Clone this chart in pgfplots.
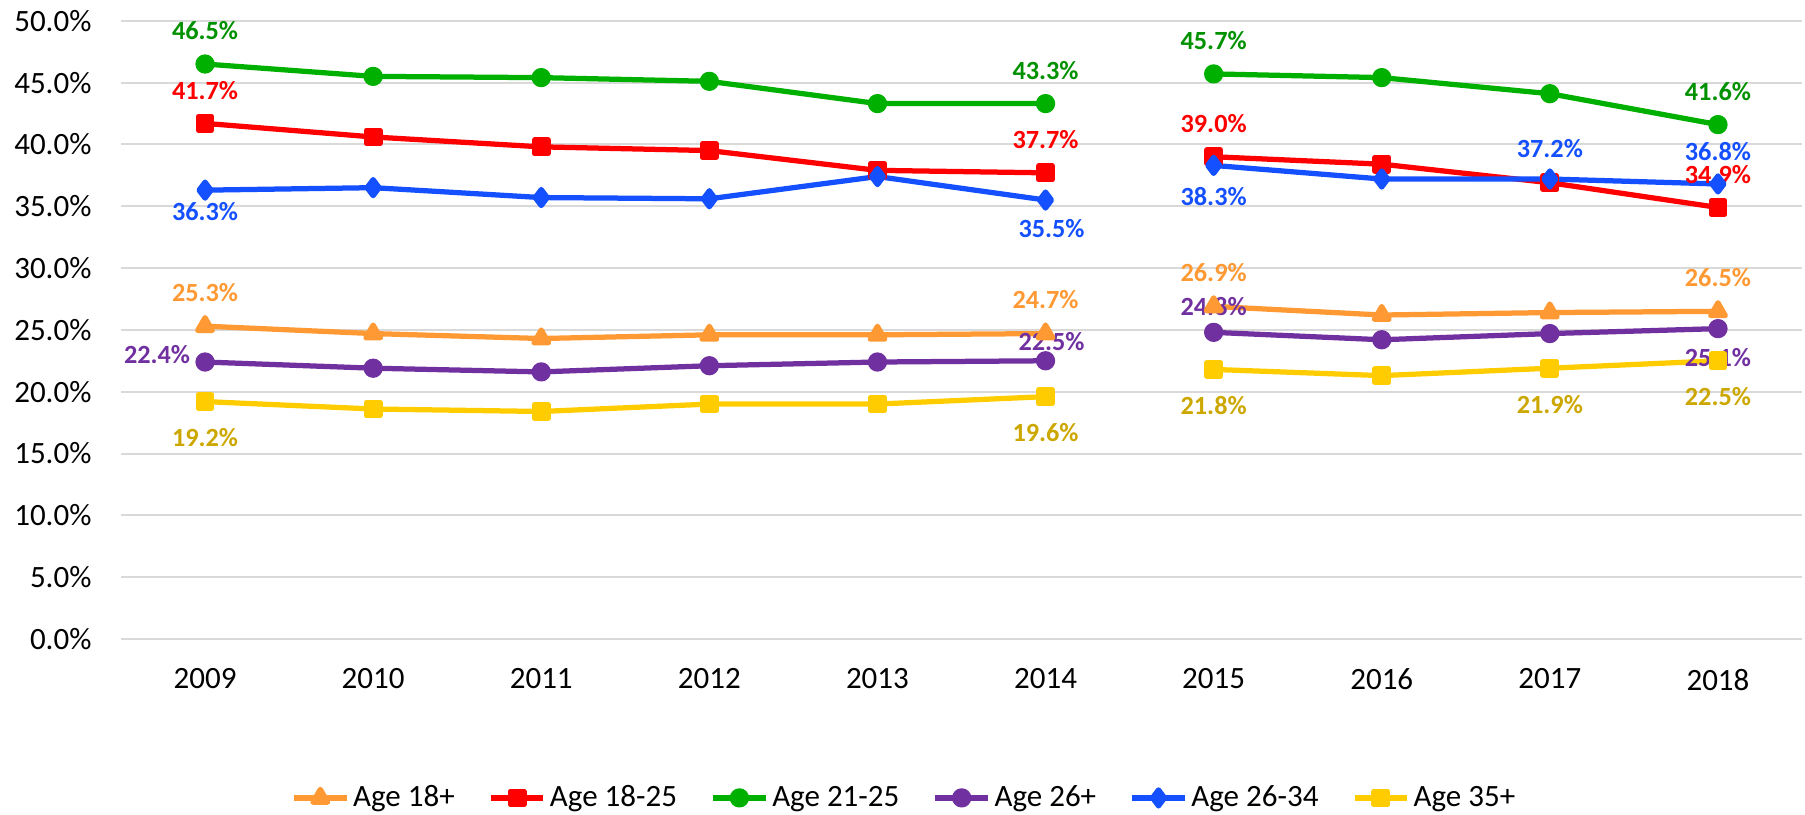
\documentclass[border=0pt]{standalone}
\usepackage{pgfplots}
\pgfplotsset{compat=1.18}
\usepackage{fontspec}
\setmainfont{Carlito}
\definecolor{cOr}{HTML}{FF9933}
\definecolor{cRed}{HTML}{FF0000}
\definecolor{cGrn}{HTML}{00B000}
\definecolor{cGrnL}{HTML}{009100}
\definecolor{cPur}{HTML}{7030A0}
\definecolor{cBlu}{HTML}{1450FF}
\definecolor{cYel}{HTML}{FFCC00}
\definecolor{cYelL}{HTML}{CCA700}
\definecolor{cGrid}{HTML}{D9D9D9}
\newcommand{\tickfont}{\fontsize{12.4}{14.9}\selectfont}
\newcommand{\lblfont}{\fontsize{10.5}{12.6}\selectfont\bfseries}
\begin{document}
\begin{tikzpicture}
\useasboundingbox (-48.4pt,-70.4pt) rectangle (673.6pt,255.6pt);
\begin{axis}[
  at={(0pt,0pt)}, anchor=south west,
  scale only axis, width=672.4pt, height=247.3pt,
  xmin=-0.5, xmax=9.5, ymin=0, ymax=50,
  axis line style={draw=none},
  major tick length=0pt,
  ymajorgrids, grid style={cGrid, line width=0.8pt},
  ytick={0,5,...,50},
  yticklabels={0.0\%,5.0\%,10.0\%,15.0\%,20.0\%,25.0\%,30.0\%,35.0\%,40.0\%,45.0\%,50.0\%},
  xtick={0,1,2,3,4,5,6,7,8,9},
  xticklabels={2009,2010,2011,2012,2013,2014,2015,2016,2017,2018},
  y tick label style={font=\tickfont, xshift=-8.3pt},
  x tick label style={font=\tickfont, yshift=-8.4pt},
  unbounded coords=jump,
  every axis plot/.append style={line width=2.1pt, line join=round},
  legend columns=6,
  legend image code/.code={\draw[mark repeat=2,mark phase=2] plot coordinates {(0pt,0pt) (10.5pt,0pt) (21pt,0pt)};},
  legend style={at={(axis description cs:0.4666,-0.257)}, anchor=center, draw=none, font=\tickfont,
    /tikz/every even column/.append style={column sep=11.8pt},
    nodes={inner xsep=1.6pt, inner ysep=2pt}},
]
\addplot[color=cOr, mark=triangle*, mark size=3.4pt] coordinates {
 (0,25.3) (1,24.7) (2,24.3) (3,24.6) (4,24.6) (5,24.7) (5.5,nan) (6,26.9) (7,26.2) (8,26.4) (9,26.5)};
\addlegendentry{Age 18+}
\addplot[color=cRed, mark=square*, mark size=2.7pt] coordinates {
 (0,41.7) (1,40.6) (2,39.8) (3,39.5) (4,37.9) (5,37.7) (5.5,nan) (6,39.0) (7,38.4) (8,36.9) (9,34.9)};
\addlegendentry{Age 18-25}
\addplot[color=cGrn, mark=*, mark size=2.8pt] coordinates {
 (0,46.5) (1,45.5) (2,45.4) (3,45.1) (4,43.3) (5,43.3) (5.5,nan) (6,45.7) (7,45.4) (8,44.1) (9,41.6)};
\addlegendentry{Age 21-25}
\addplot[color=cPur, mark=*, mark size=2.8pt] coordinates {
 (0,22.4) (1,21.9) (2,21.6) (3,22.1) (4,22.4) (5,22.5) (5.5,nan) (6,24.8) (7,24.2) (8,24.7) (9,25.1)};
\addlegendentry{Age 26+}
\addplot[color=cBlu, mark=diamond*, mark size=3.2pt] coordinates {
 (0,36.3) (1,36.5) (2,35.7) (3,35.6) (4,37.4) (5,35.5) (5.5,nan) (6,38.3) (7,37.2) (8,37.2) (9,36.8)};
\addlegendentry{Age 26-34}
\addplot[color=cYel, mark=square*, mark size=2.7pt] coordinates {
 (0,19.2) (1,18.6) (2,18.4) (3,19.0) (4,19.0) (5,19.6) (5.5,nan) (6,21.8) (7,21.3) (8,21.9) (9,22.5)};
\addlegendentry{Age 35+}
% data labels
\begin{scope}[every node/.style={font=\lblfont, inner sep=0pt}]
\node[text=cGrnL, yshift=13.3pt] at (axis cs:0,46.5) {46.5\%};
\node[text=cGrnL, yshift=13.3pt] at (axis cs:5,43.3) {43.3\%};
\node[text=cGrnL, yshift=13.3pt] at (axis cs:6,45.7) {45.7\%};
\node[text=cGrnL, yshift=13.3pt] at (axis cs:9,41.6) {41.6\%};
\node[text=cRed, yshift=13.3pt] at (axis cs:0,41.7) {41.7\%};
\node[text=cRed, yshift=13.3pt] at (axis cs:5,37.7) {37.7\%};
\node[text=cRed, yshift=13.3pt] at (axis cs:6,39.0) {39.0\%};
\node[text=cRed, yshift=13.3pt] at (axis cs:9,34.9) {34.9\%};
\node[text=cBlu, yshift=-8.7pt] at (axis cs:0,36.3) {36.3\%};
\node[text=cBlu, yshift=-11.3pt, xshift=2.4pt] at (axis cs:5,35.5) {35.5\%};
\node[text=cBlu, yshift=-12.4pt] at (axis cs:6,38.3) {38.3\%};
\node[text=cBlu, yshift=12pt] at (axis cs:8,37.2) {37.2\%};
\node[text=cBlu, yshift=13pt] at (axis cs:9,36.8) {36.8\%};
\node[text=cOr, yshift=13.5pt] at (axis cs:0,25.3) {25.3\%};
\node[text=cOr, yshift=13.5pt] at (axis cs:5,24.7) {24.7\%};
\node[text=cOr, yshift=13.5pt] at (axis cs:6,26.9) {26.9\%};
\node[text=cOr, yshift=13.5pt] at (axis cs:9,26.5) {26.5\%};
\node[text=cPur, yshift=3pt, xshift=-19.2pt] at (axis cs:0,22.4) {22.4\%};
\node[text=cPur, yshift=7.6pt, xshift=2.4pt] at (axis cs:5,22.5) {22.5\%};
\node[text=cPur, yshift=10.2pt] at (axis cs:6,24.8) {24.8\%};
\node[text=cPur, yshift=-11.6pt] at (axis cs:9,25.1) {25.1\%};
\node[text=cYelL, yshift=-14.5pt] at (axis cs:0,19.2) {19.2\%};
\node[text=cYelL, yshift=-14.5pt] at (axis cs:5,19.6) {19.6\%};
\node[text=cYelL, yshift=-14.5pt] at (axis cs:6,21.8) {21.8\%};
\node[text=cYelL, yshift=-14.5pt] at (axis cs:8,21.9) {21.9\%};
\node[text=cYelL, yshift=-14.5pt] at (axis cs:9,22.5) {22.5\%};
\end{scope}
\end{axis}
\end{tikzpicture}
\end{document}
